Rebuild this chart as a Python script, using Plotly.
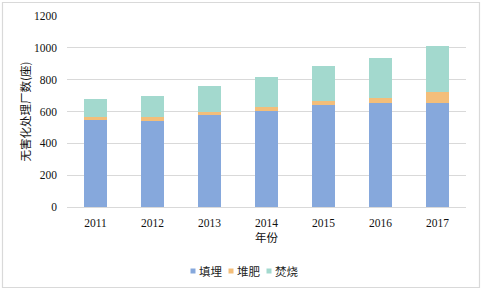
import plotly.graph_objects as go

years = ["2011", "2012", "2013", "2014", "2015", "2016", "2017"]
landfill = [548, 540, 578, 602, 640, 655, 651]
compost = [17, 23, 19, 24, 26, 32, 73]
incineration = [111, 132, 165, 188, 222, 251, 287]
series_names = ["填埋", "堆肥", "焚烧"]
colors = ["#86A8DC", "#F3BE7A", "#A3D9CE"]

serif = "Liberation Serif, 'Times New Roman', serif"
cjk = "'Noto Sans CJK SC', sans-serif"

L, R, T, B = 67, 16, 16, 83
W, H = 482, 290
PW, PH = W - L - R, H - T - B


def px_x(px):
    return (px - L) / PW


def px_y(py):
    return (H - B - py) / PH


fig = go.Figure()
for name, vals, col in zip(series_names, [landfill, compost, incineration], colors):
    fig.add_trace(go.Bar(name=name, x=years, y=vals, marker=dict(color=col, line=dict(width=0)),
                         showlegend=False))

shapes = [dict(type="rect", xref="paper", yref="paper", x0=px_x(2.5), x1=px_x(479.5),
               y0=px_y(287.5), y1=px_y(2.5), line=dict(color="#D9D9D9", width=1.2), layer="below")]
annotations = []
legend_marker_x = [193, 231, 269]
for name, col, mx in zip(series_names, colors, legend_marker_x):
    shapes.append(dict(type="rect", xref="paper", yref="paper", x0=px_x(mx - 2.5), x1=px_x(mx + 2.5),
                       y0=px_y(273.5), y1=px_y(268.5), fillcolor=col, line=dict(width=0)))
    annotations.append(dict(xref="paper", yref="paper", x=px_x(mx + 4), y=px_y(271), text=name,
                            showarrow=False, xanchor="left", yanchor="middle",
                            font=dict(family=cjk, size=11.5, color="#222222")))

fig.update_layout(
    barmode="stack",
    bargap=0.61,
    width=W, height=H,
    margin=dict(l=L, r=R, t=T, b=B, autoexpand=False),
    paper_bgcolor="white", plot_bgcolor="white",
    font=dict(family=serif, size=11.5, color="#111111"),
    showlegend=False,
    shapes=shapes,
    annotations=annotations,
)
fig.update_xaxes(
    automargin=False,
    showgrid=False, showline=True, linecolor="#D9D9D9", linewidth=1,
    ticks="", ticklabelstandoff=5,
    title=dict(text="年份", font=dict(size=11.5, family=cjk, color="#111111"), standoff=3),
)
fig.update_yaxes(
    automargin=False,
    range=[0, 1200], dtick=200, showgrid=True, gridcolor="#D9D9D9", gridwidth=1,
    zeroline=False, showline=False, ticks="", ticklabelstandoff=9,
    title=dict(text="无害化处理厂数(座)", font=dict(size=11.5, family=cjk, color="#111111"), standoff=0),
)

fig.write_html("out.html", config={"displayModeBar": False},
               post_script="document.body.style.margin='0px';")
